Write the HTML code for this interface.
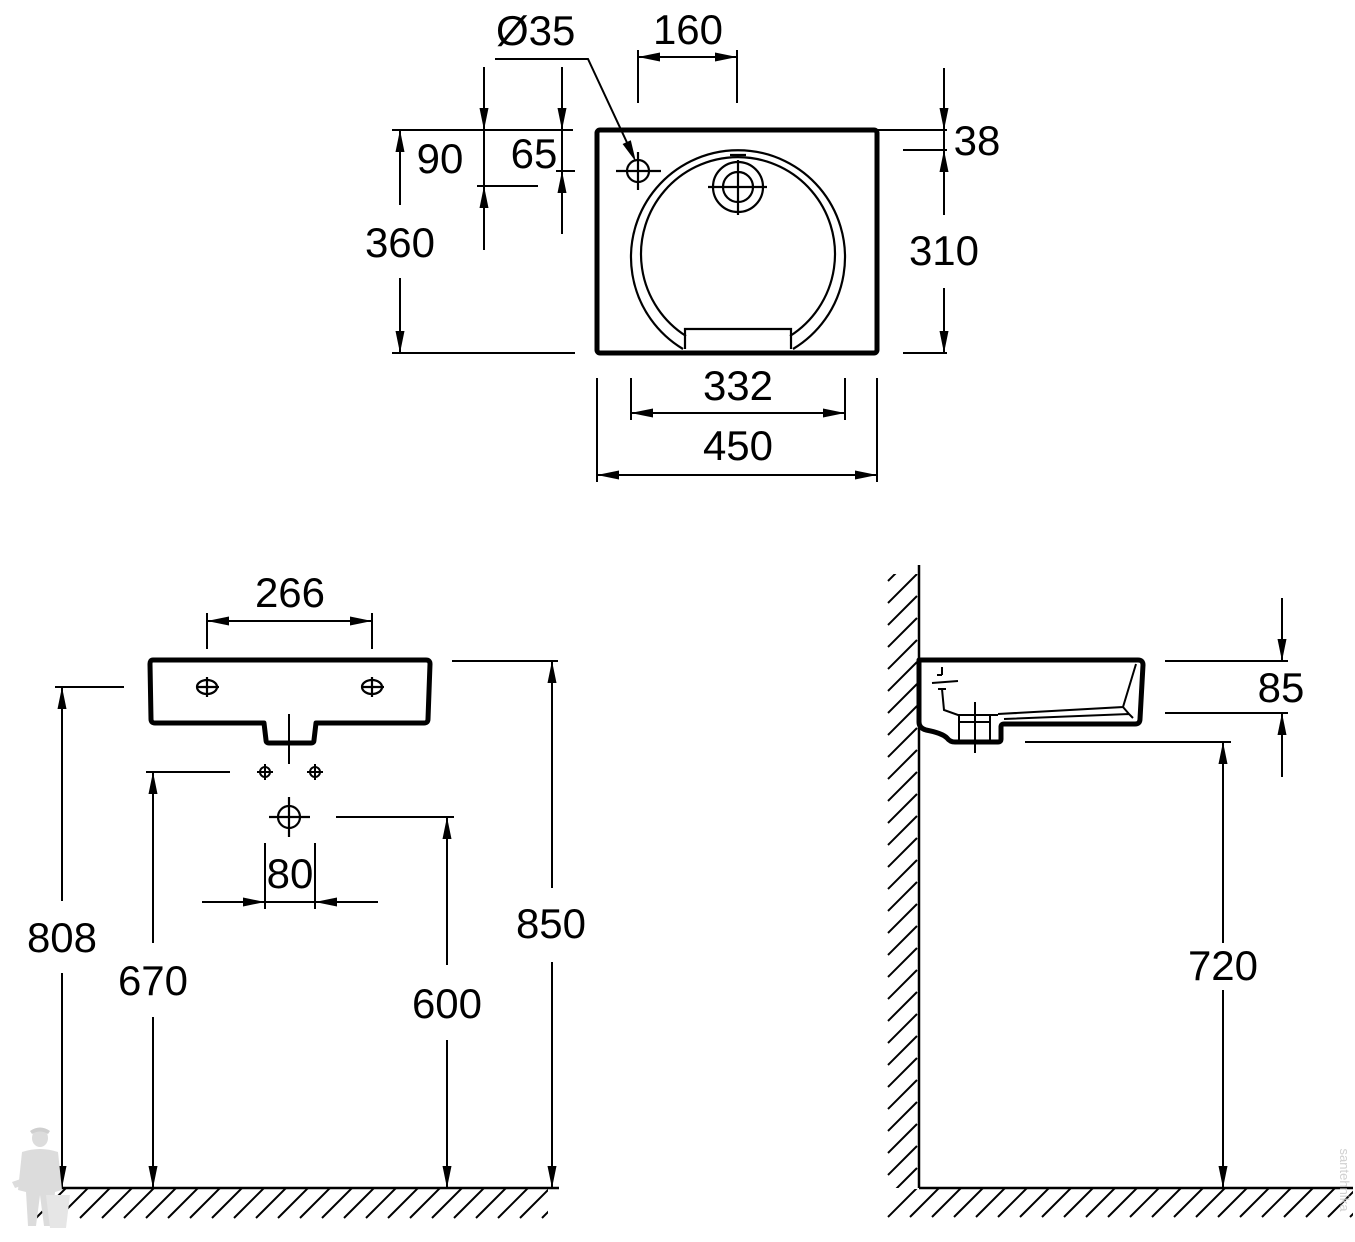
<!DOCTYPE html>
<html>
<head>
<meta charset="utf-8">
<style>
html,body{margin:0;padding:0;background:#fff;}
svg{display:block;}
text{font-family:"Liberation Sans",sans-serif;font-size:42px;fill:#000;}
</style>
</head>
<body>
<svg width="1355" height="1242" viewBox="0 0 1355 1242" xmlns="http://www.w3.org/2000/svg">
<defs>
  <clipPath id="cf1"><rect x="30" y="1189" width="518" height="32"/></clipPath>
  <clipPath id="cw"><rect x="885" y="574" width="33" height="614"/></clipPath>
  <clipPath id="cf2"><rect x="885" y="1189" width="468" height="32"/></clipPath>
</defs>
<rect width="1355" height="1242" fill="#fff"/>

<!-- ============ TOP VIEW ============ -->
<g fill="none" stroke="#000">
  <rect x="597" y="130" width="280" height="223" rx="3" stroke-width="5"/>
  <!-- ring -->
  <path d="M683,349 A107,107 0 1,1 793,349" stroke-width="2.2"/>
  <path d="M686,336 A97,97 0 1,1 790,336" stroke-width="2.2"/>
  <path d="M685,349 V329 H791 V349" stroke-width="2.2"/>
  <!-- drain -->
  <circle cx="738" cy="187" r="25" stroke-width="2.2"/>
  <circle cx="738" cy="187" r="15" stroke-width="2.2"/>
  <path d="M708,187 H767 M738,160 V215 M730,155 H746" stroke-width="2.2"/>
  <!-- tap hole -->
  <circle cx="638" cy="171" r="11" stroke-width="2.2"/>
  <path d="M616,171 H661 M638,152 V190" stroke-width="2.2"/>
  <!-- leader -->
  <path d="M495,59 H588 L630,149" stroke-width="2"/>
  <!-- 160 -->
  <path d="M638,50 V103 M737,50 V103 M638,57 H737" stroke-width="2"/>
  <!-- 90 / 65 / 360 -->
  <path d="M392,130 H573 M484,67 V250 M477,186 H538 M562,67 V234 M556,171 H575" stroke-width="2"/>
  <path d="M400,130 V205 M400,278 V353 M392,353 H575" stroke-width="2"/>
  <!-- 38 / 310 -->
  <path d="M944,68 V215 M944,288 V353 M877,130 H947 M903,150 H947 M903,353 H947" stroke-width="2"/>
  <!-- 332 / 450 -->
  <path d="M631,378 V420 M845,378 V420 M631,413 H845" stroke-width="2"/>
  <path d="M597,378 V482 M877,378 V482 M597,475 H877" stroke-width="2"/>
</g>
<g fill="#000">
  <polygon points="636,162 622.6,144 630.8,140.2"/>
  <polygon points="638,57 660,52.5 660,61.5"/>
  <polygon points="737,57 715,52.5 715,61.5"/>
  <polygon points="484,130 479.5,108 488.5,108"/>
  <polygon points="484,186 479.5,208 488.5,208"/>
  <polygon points="562,130 557.5,108 566.5,108"/>
  <polygon points="562,171 557.5,193 566.5,193"/>
  <polygon points="400,130 395.5,152 404.5,152"/>
  <polygon points="400,353 395.5,331 404.5,331"/>
  <polygon points="944,130 939.5,108 948.5,108"/>
  <polygon points="944,150 939.5,172 948.5,172"/>
  <polygon points="944,353 939.5,331 948.5,331"/>
  <polygon points="631,413 653,408.5 653,417.5"/>
  <polygon points="845,413 823,408.5 823,417.5"/>
  <polygon points="597,475 619,470.5 619,479.5"/>
  <polygon points="877,475 855,470.5 855,479.5"/>
</g>
<text x="496" y="45">Ø35</text>
<text x="688" y="44" text-anchor="middle">160</text>
<text x="440" y="173" text-anchor="middle">90</text>
<text x="534" y="168" text-anchor="middle">65</text>
<text x="400" y="257" text-anchor="middle">360</text>
<text x="977" y="155" text-anchor="middle">38</text>
<text x="944" y="265" text-anchor="middle">310</text>
<text x="738" y="400" text-anchor="middle">332</text>
<text x="738" y="460" text-anchor="middle">450</text>

<!-- ============ FRONT VIEW ============ -->
<g fill="none" stroke="#000">
  <path d="M153,660 H426 Q430,660 430,664 L428,719 Q428,723 424,723 H316 L314,740 Q314,743 311,743 H269 Q266,743 266,740 L264,723 H155 Q151,723 151,719 L150,664 Q150,660 153,660 Z" stroke-width="5" stroke-linejoin="round"/>
  <ellipse cx="207" cy="687" rx="10" ry="7" stroke-width="2.2"/>
  <ellipse cx="372" cy="687" rx="10" ry="7" stroke-width="2.2"/>
  <path d="M196,687 H219 M207,677 V697 M361,687 H384 M372,677 V697" stroke-width="2.2"/>
  <path d="M207,613 V649 M372,613 V649 M207,621 H372" stroke-width="2"/>
  <path d="M289,714 V764" stroke-width="2"/>
  <circle cx="265" cy="772" r="5" stroke-width="2"/>
  <circle cx="315" cy="772" r="5" stroke-width="2"/>
  <path d="M257,772 H273 M265,764 V780 M307,772 H323 M315,764 V780" stroke-width="2"/>
  <circle cx="289" cy="817" r="11" stroke-width="2.2"/>
  <path d="M269,817 H310 M289,797 V837" stroke-width="2.2"/>
  <path d="M265,843 V909 M315,843 V909 M202,902 H378" stroke-width="2"/>
  <!-- 808 -->
  <path d="M55,687 H124 M62,687 V901 M62,973 V1188" stroke-width="2"/>
  <!-- 670 -->
  <path d="M146,772 H230 M153,772 V943 M153,1017 V1188" stroke-width="2"/>
  <!-- 600 -->
  <path d="M336,817 H454 M447,817 V965 M447,1040 V1188" stroke-width="2"/>
  <!-- 850 -->
  <path d="M452,661 H558 M552,661 V888 M552,962 V1188" stroke-width="2"/>
  <!-- floor -->
  <path d="M35,1188 H559" stroke-width="2.5"/>
  <g clip-path="url(#cf1)" stroke-width="2">
    <path d="M36,1218 L66,1188 M58,1218 L88,1188 M80,1218 L110,1188 M102,1218 L132,1188 M124,1218 L154,1188 M146,1218 L176,1188 M168,1218 L198,1188 M190,1218 L220,1188 M212,1218 L242,1188 M234,1218 L264,1188 M256,1218 L286,1188 M278,1218 L308,1188 M300,1218 L330,1188 M322,1218 L352,1188 M344,1218 L374,1188 M366,1218 L396,1188 M388,1218 L418,1188 M410,1218 L440,1188 M432,1218 L462,1188 M454,1218 L484,1188 M476,1218 L506,1188 M498,1218 L528,1188 M520,1218 L550,1188 M542,1218 L572,1188"/>
  </g>
</g>
<g fill="#000">
  <polygon points="207,621 229,616.5 229,625.5"/>
  <polygon points="372,621 350,616.5 350,625.5"/>
  <polygon points="265,902 243,897.5 243,906.5"/>
  <polygon points="315,902 337,897.5 337,906.5"/>
  <polygon points="62,687 57.5,709 66.5,709"/>
  <polygon points="62,1188 57.5,1166 66.5,1166"/>
  <polygon points="153,772 148.5,794 157.5,794"/>
  <polygon points="153,1188 148.5,1166 157.5,1166"/>
  <polygon points="447,817 442.5,839 451.5,839"/>
  <polygon points="447,1188 442.5,1166 451.5,1166"/>
  <polygon points="552,661 547.5,683 556.5,683"/>
  <polygon points="552,1188 547.5,1166 556.5,1166"/>
</g>
<text x="290" y="607" text-anchor="middle">266</text>
<text x="290" y="888" text-anchor="middle">80</text>
<text x="62" y="952" text-anchor="middle">808</text>
<text x="153" y="995" text-anchor="middle">670</text>
<text x="447" y="1018" text-anchor="middle">600</text>
<text x="551" y="938" text-anchor="middle">850</text>

<!-- watermark figure -->
<g fill="#dcdcdc" stroke="none">
  <ellipse cx="40" cy="1138" rx="8" ry="9"/>
  <path d="M30,1131 Q40,1124 50,1131 L48,1134 Q40,1129 32,1134 Z" fill="#cfcfcf"/>
  <path d="M22,1152 Q40,1146 58,1152 L62,1190 L55,1192 L52,1226 L44,1226 L40,1195 L36,1226 L28,1226 L26,1192 L18,1190 Z"/>
  <path d="M12,1182 L35,1174 L38,1180 L15,1188 Z"/>
  <path d="M46,1195 L70,1195 L66,1228 L50,1228 Z" fill="#e6e6e6"/>
</g>

<!-- ============ SIDE VIEW ============ -->
<g fill="none" stroke="#000">
  <path d="M919,565 V1188" stroke-width="2.5"/>
  <g clip-path="url(#cw)" stroke-width="2">
    <path d="M888,581 L917,552 M888,603 L917,574 M888,625 L917,596 M888,647 L917,618 M888,669 L917,640 M888,691 L917,662 M888,713 L917,684 M888,735 L917,706 M888,757 L917,728 M888,779 L917,750 M888,801 L917,772 M888,823 L917,794 M888,845 L917,816 M888,867 L917,838 M888,889 L917,860 M888,911 L917,882 M888,933 L917,904 M888,955 L917,926 M888,977 L917,948 M888,999 L917,970 M888,1021 L917,992 M888,1043 L917,1014 M888,1065 L917,1036 M888,1087 L917,1058 M888,1109 L917,1080 M888,1131 L917,1102 M888,1153 L917,1124 M888,1175 L917,1146 M888,1197 L917,1168"/>
  </g>
  <path d="M919,1188 H1353" stroke-width="2.5"/>
  <g clip-path="url(#cf2)" stroke-width="2">
    <path d="M888,1217 L917,1188 M910,1217 L939,1188 M932,1217 L961,1188 M954,1217 L983,1188 M976,1217 L1005,1188 M998,1217 L1027,1188 M1020,1217 L1049,1188 M1042,1217 L1071,1188 M1064,1217 L1093,1188 M1086,1217 L1115,1188 M1108,1217 L1137,1188 M1130,1217 L1159,1188 M1152,1217 L1181,1188 M1174,1217 L1203,1188 M1196,1217 L1225,1188 M1218,1217 L1247,1188 M1240,1217 L1269,1188 M1262,1217 L1291,1188 M1284,1217 L1313,1188 M1306,1217 L1335,1188 M1328,1217 L1357,1188 M1350,1217 L1379,1188"/>
  </g>
  <!-- basin outline -->
  <path d="M919,660 H1138 Q1143,660 1143,665 L1140,719 Q1140,724 1135,724 H1004 Q1001,724 1001,727 L1001,739 Q1001,742 998,742 H955 Q950,742 947,738 Q942,733 926,730 Q919,728 919,722 Z" stroke-width="5" stroke-linejoin="round"/>
  <!-- inner lines -->
  <path d="M1136,664 L1123,707 L998,714 M1004,719 L1129,714 L1133,718 M1123,707 L1129,714" stroke-width="2"/>
  <path d="M942,667 V675 M937,675 H942 M932,683 L958,681 M938,689 H946 M942,689 L944,710 L958,715 H998" stroke-width="2"/>
  <path d="M959,715 V742 M990,715 V742 M959,722 H990 M975,702 V753" stroke-width="2"/>
  <!-- 85 -->
  <path d="M1165,661 H1288 M1165,713 H1288 M1282,598 V661 M1282,713 V777" stroke-width="2"/>
  <!-- 720 -->
  <path d="M1025,742 H1231 M1223,742 V943 M1223,990 V1188" stroke-width="2"/>
</g>
<g fill="#000">
  <polygon points="1282,661 1277.5,639 1286.5,639"/>
  <polygon points="1282,713 1277.5,735 1286.5,735"/>
  <polygon points="1223,742 1218.5,764 1227.5,764"/>
  <polygon points="1223,1188 1218.5,1166 1227.5,1166"/>
</g>
<text x="1281" y="702" text-anchor="middle">85</text>
<text x="1223" y="980" text-anchor="middle">720</text>

<!-- vertical watermark text -->
<text x="1340" y="1180" font-size="13" fill="#d0d0d0" style="font-size:13px;fill:#d0d0d0" text-anchor="middle" transform="rotate(90 1340 1180)">santehnika</text>
</svg>
</body>
</html>
